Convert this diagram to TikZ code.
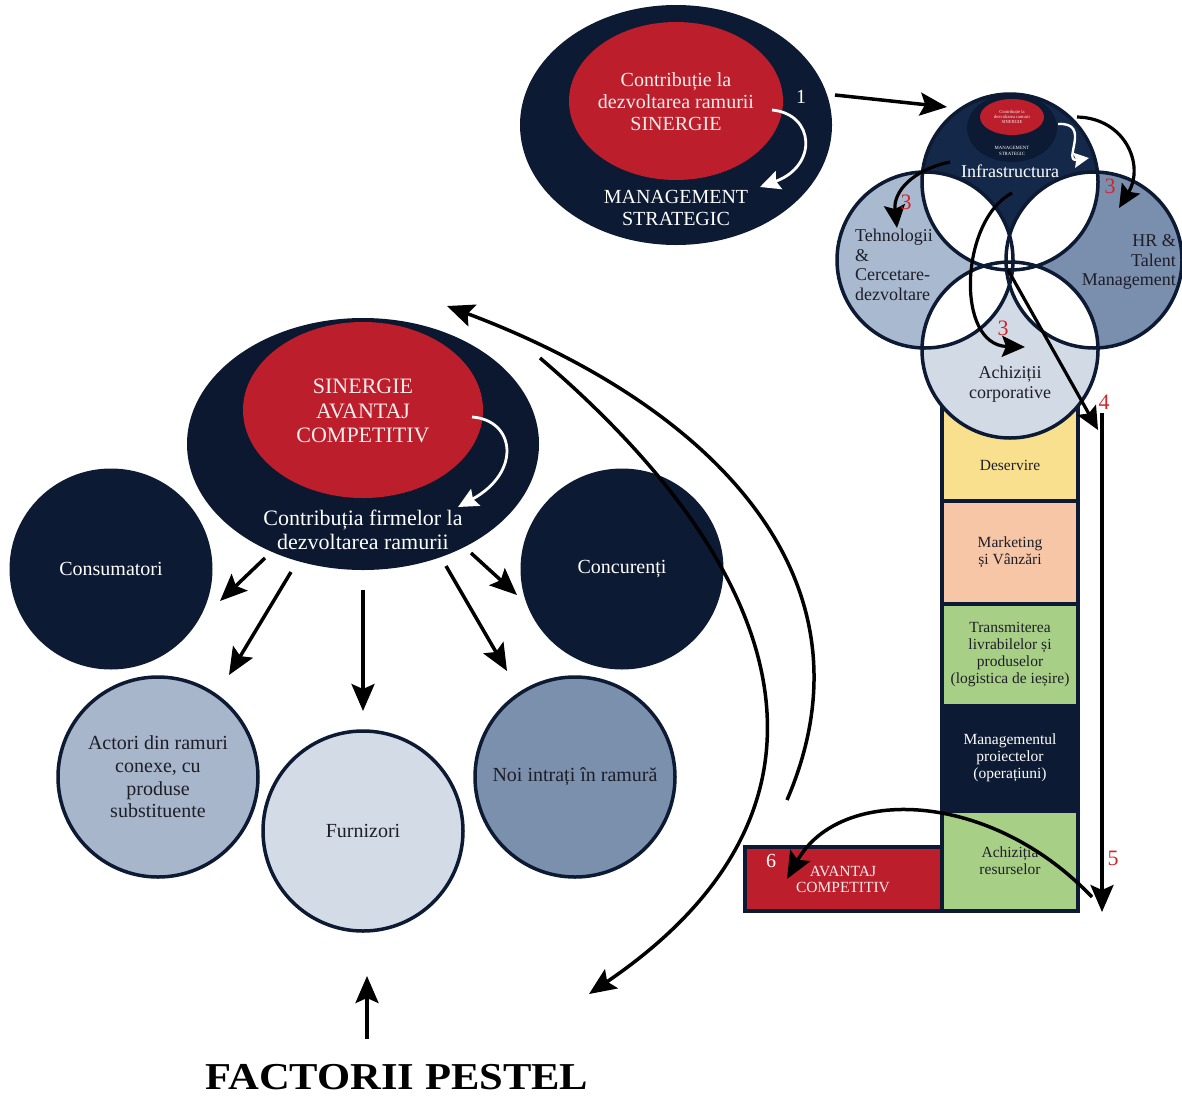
\documentclass[tikz,border=0pt]{standalone}
\usepackage{fontspec}
\setmainfont{Liberation Serif}
\usetikzlibrary{shapes.geometric,arrows.meta}
\definecolor{navy}{HTML}{0C1A33}
\definecolor{navyB}{HTML}{14294A}
\definecolor{navyC}{HTML}{0B1830}
\definecolor{redA}{HTML}{BD1E2C}
\definecolor{redlab}{HTML}{D0262D}
\definecolor{steelA}{HTML}{A7B6CA}
\definecolor{steelB}{HTML}{D3DBE6}
\definecolor{steelC}{HTML}{7B90AD}
\definecolor{vTech}{HTML}{A9B9CF}
\definecolor{vHR}{HTML}{7A8EAE}
\definecolor{vAch}{HTML}{D2DAE6}
\definecolor{ylw}{HTML}{F8E08E}
\definecolor{peach}{HTML}{F6C6A6}
\definecolor{grn}{HTML}{A8CF86}
\definecolor{txtdark}{HTML}{1E1E28}
\definecolor{pinkw}{HTML}{F7ECEC}
\begin{document}
\begin{tikzpicture}[x=1pt,y=-1pt,
  ell/.style={ellipse, inner sep=0pt, draw=none},
  bigcirc/.style={circle, inner sep=0pt, minimum size=200pt, draw=navy, line width=3.5pt},
  vcirc/.style={circle, inner sep=0pt, minimum size=176pt},
  arr/.style={line width=3.5pt, -{Stealth[length=27pt,width=23pt,inset=5pt]}},
  sarr/.style={line width=3.2pt, -{Stealth[length=23pt,width=21pt,inset=4pt]}},
  warr/.style={draw=white, line width=2.8pt, -{Stealth[length=20pt,width=19pt,inset=3pt]}},
  lab/.style={align=center, inner sep=0pt},
  fA/.style={font=\fontsize{20}{22}\selectfont},
  fB/.style={font=\fontsize{22}{24.5}\selectfont},
  fC/.style={font=\fontsize{18}{19.5}\selectfont},
  fD/.style={font=\fontsize{15.5}{17}\selectfont},
  num/.style={font=\fontsize{22}{24}\selectfont, text=redlab, inner sep=0pt},
  cbox/.style={rectangle, inner sep=0pt, minimum width=132pt, align=center, font=\fontsize{15.5}{17}\selectfont, text=txtdark}
]
\path[use as bounding box] (0,0) rectangle (1182,1095);

% ---------- top ellipse ----------
\node[ell, fill=navy, minimum width=312pt, minimum height=240pt] (topO) at (676,125) {};
\node[ell, fill=redA, minimum width=214pt, minimum height=158pt] (topR) at (676,101) {};
\node[lab, fA, text=pinkw] (topRt) at (676,102) {Contribuție la\\dezvoltarea ramurii\\SINERGIE};
\node[lab, fA, text=white] (topMS) at (676,208) {MANAGEMENT\\STRATEGIC};
\node[lab, fA, text=white] (n1) at (801,97) {1};
\coordinate (w1s) at (772,110);
\coordinate (w1e) at (760,187);
\draw[warr] (w1s) .. controls (815,114) and (818,166) .. (w1e);

\coordinate (a0s) at (835,95);
\coordinate (a0e) at (947,107);
\draw[arr] (a0s) -- (a0e);

% ---------- value chain column ----------
\node[rectangle, fill=navy, minimum width=140pt, minimum height=508pt, inner sep=0pt] (col) at (1010,659) {};
\node[cbox, fill=ylw, minimum height=94pt] (des) at (1010,452) {};
\node[lab, fD, text=txtdark] (dest) at (1010,465) {Deservire};
\node[cbox, fill=peach, minimum height=99pt] (mkt) at (1010,552.5) {Marketing\\și Vânzări};
\node[cbox, fill=grn, minimum height=98pt] (trm) at (1010,655) {Transmiterea\\livrabilelor și\\produselor\\(logistica de ieșire)};
\node[cbox, fill=navy, text=white, minimum height=102pt] (mgp) at (1010,758) {Managementul\\proiectelor\\(operațiuni)};
\node[cbox, fill=grn, minimum height=96pt] (acr) at (1010,861) {Achiziția\\resurselor};
\node[rectangle, fill=navy, minimum width=200pt, minimum height=68pt, inner sep=0pt] (avO) at (842.5,879) {};
\node[rectangle, fill=redA, minimum width=193pt, minimum height=60pt, inner sep=0pt, align=center, font=\fontsize{15.5}{16}\selectfont, text=pinkw] (av) at (843,879) {AVANTAJ\\COMPETITIV};
\node[lab, fA, text=white] (n6) at (771,861) {6};

% ---------- Venn ----------
\node[vcirc, fill=navyB] (T) at (1010,182) {};
\node[vcirc, fill=vTech] (L) at (925,260) {};
\node[vcirc, fill=vHR] (R) at (1094,260) {};
\node[vcirc, fill=vAch] (B) at (1010,350) {};
\begin{scope}
  \clip (T.center) circle[radius=88pt];
  \fill[white] (L.center) circle[radius=88pt];
  \fill[white] (R.center) circle[radius=88pt];
\end{scope}
\begin{scope}
  \clip (B.center) circle[radius=88pt];
  \fill[white] (L.center) circle[radius=88pt];
  \fill[white] (R.center) circle[radius=88pt];
\end{scope}
\foreach \c in {T,L,R,B} \draw[navy, line width=3.5pt] (\c.center) circle[radius=88pt];

\node[ell, fill=navy, minimum width=90pt, minimum height=68pt] (mO) at (1012,128) {};
\node[ell, fill=redA, minimum width=64pt, minimum height=36pt] (mR) at (1012,117) {};
\node[lab, font=\fontsize{4.6}{5.2}\selectfont, text=pinkw] (mRt) at (1012,117) {Contribuție la\\dezvoltarea ramurii\\SINERGIE};
\node[lab, font=\fontsize{4.8}{6.5}\selectfont, text=white] (mMS) at (1012,151) {MANAGEMENT\\STRATEGIC};
\coordinate (w3s) at (1058,124);
\coordinate (w3e) at (1089,158);
\draw[draw=white, line width=2.4pt, -{Stealth[length=15pt,width=15pt,inset=2pt]}] (w3s) .. controls (1092,122) and (1062,162) .. (w3e);

\node[lab, fC, text=white] (infra) at (1010,171) {Infrastructura};
\node[lab, fC, text=txtdark, align=left, anchor=west] (tech) at (855,265) {Tehnologii\\\&\\Cercetare-\\dezvoltare};
\node[lab, fC, text=txtdark, align=right, anchor=east] (hr) at (1176,262) {HR \&\\Talent\\Management};
\node[lab, fC, text=txtdark] (achc) at (1010,384) {Achiziții\\corporative};

% venn arrows
\coordinate (v1s) at (950,162); \coordinate (v1e) at (897,228);
\draw[sarr] (v1s) .. controls (912,170) and (893,192) .. (v1e);
\coordinate (v2s) at (1077,117); \coordinate (v2e) at (1119,208);
\draw[sarr] (v2s) .. controls (1125,118) and (1145,165) .. (v2e);
\coordinate (v3s) at (1012,193); \coordinate (v3e) at (1025,347);
\draw[sarr] (v3s) .. controls (960,220) and (955,345) .. (v3e);
\coordinate (v4s) at (1008,270); \coordinate (v4e) at (1098,430);
\draw[sarr] (v4s) -- (v4e);
\coordinate (v5s) at (1102,413); \coordinate (v5e) at (1102,912);
\draw[arr] (v5s) -- (v5e);
\coordinate (v6s) at (1092,897); \coordinate (v6e) at (787,879);
\draw[arr] (v6s) .. controls (990,790) and (840,785) .. (v6e);

\node[num] (l3a) at (906,202) {3};
\node[num] (l3b) at (1110,186) {3};
\node[num] (l3c) at (1003,328) {3};
\node[num] (l4) at (1104,402) {4};
\node[num] (l5) at (1113,858) {5};

% ---------- left cluster ----------
\node[ell, fill=navyC, minimum width=352pt, minimum height=252pt] (bigO) at (363,444) {};
\node[ell, fill=redA, minimum width=240pt, minimum height=176pt] (bigR) at (363,410) {};
\node[lab, fB, text=pinkw] (bigRt) at (363,411) {SINERGIE\\AVANTAJ\\COMPETITIV};
\node[lab, fB, text=white] (bigC) at (363,530) {Contribuția firmelor la\\dezvoltarea ramurii};
\coordinate (w2s) at (472,417);
\coordinate (w2e) at (458,507);
\draw[warr] (w2s) .. controls (515,420) and (522,472) .. (w2e);

\node[ell, fill=navy, minimum width=203pt, minimum height=201pt, fA, text=white] (cons) at (111,569) {Consumatori};
\node[ell, fill=navy, minimum width=203pt, minimum height=201pt, fA, text=white] (conc) at (622,569) {Concurenți};
\node[bigcirc, fill=steelA] (act) at (158,777) {};
\node[lab, text=txtdark, font=\fontsize{20}{22.6}\selectfont] (actt) at (158,777) {Actori din ramuri\\conexe, cu\\produse\\substituente};
\node[bigcirc, fill=steelB, fA, text=txtdark] (furn) at (363,831) {Furnizori};
\node[bigcirc, fill=steelC, fA, text=txtdark] (noi) at (575,777) {Noi intrați în ramură};

\coordinate (b1s) at (265,558); \coordinate (b1e) at (220,601);
\coordinate (b2s) at (291,572); \coordinate (b2e) at (229,675);
\coordinate (b3s) at (363,590); \coordinate (b3e) at (363,711);
\coordinate (b4s) at (446,566); \coordinate (b4e) at (507,671);
\coordinate (b5s) at (471,553); \coordinate (b5e) at (517,595);
\foreach \s/\e in {b1s/b1e,b2s/b2e,b3s/b3e,b4s/b4e,b5s/b5e} \draw[arr] (\s) -- (\e);

% big arcs
\coordinate (cAs) at (787,800); \coordinate (cAe) at (447,306);
\draw[arr] (cAs) .. controls (886,570) and (698,400) .. (cAe);
\coordinate (cBs) at (540,358); \coordinate (cBe) at (589,994);
\draw[arr] (cBs) .. controls (791,572) and (864,807) .. (cBe);

% PESTEL
\node[inner sep=0pt, anchor=base, font=\bfseries\fontsize{38}{42}\selectfont] (pest) at (397,1089) {\scalebox{1.12}[1]{FACTORII PESTEL}};
\coordinate (pS) at (367,1039); \coordinate (pE) at (367,976);
\draw[arr] (pS) -- (pE);
\end{tikzpicture}
\end{document}
